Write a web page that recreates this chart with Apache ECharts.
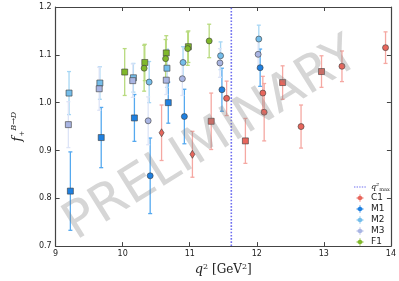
<!DOCTYPE html>
<html>
<head>
<meta charset="utf-8">
<script src="https://cdn.jsdelivr.net/npm/echarts@6/dist/echarts.min.js"></script>
<style>html,body{margin:0;padding:0;background:#fff}#c{width:399px;height:281px}</style>
</head>
<body>
<div id="c"></div>
<script>
// ---- data ----
const qMax = 11.62;
const xTicks = [9, 10, 11, 12, 13, 14];
const yTicks = [0.7, 0.8, 0.9, 1.0, 1.1, 1.2];

const c1Q     = [10.58, 11.04, 11.32, 11.55, 11.83, 12.09, 12.11, 12.385, 12.66, 12.965, 13.27, 13.92];
const c1F     = [0.937, 0.892, 0.961, 1.009, 0.920, 1.020, 0.980, 1.042, 0.950, 1.065, 1.076, 1.115];
const c1Err   = [0.058, 0.048, 0.059, 0.036, 0.047, 0.035, 0.060, 0.035, 0.045, 0.033, 0.032, 0.033];
const c1Shape = ['d', 'd', 's', 'c', 's', 'c', 'c', 's', 'c', 's', 'c', 'c'];

const m1Q     = [9.22, 9.68, 10.175, 10.41, 10.68, 10.92, 11.48, 12.05];
const m1F     = [0.815, 0.927, 0.968, 0.847, 1.000, 0.971, 1.027, 1.073];
const m1Err   = [0.082, 0.063, 0.049, 0.079, 0.043, 0.057, 0.045, 0.039];
const m1Shape = ['s', 's', 's', 'c', 's', 'c', 'c', 'c'];

const m2Q     = [9.20, 9.66, 10.16, 10.395, 10.66, 10.90, 11.46, 12.03];
const m2F     = [1.020, 1.041, 1.052, 1.043, 1.072, 1.084, 1.098, 1.133];
const m2Err   = [0.045, 0.034, 0.030, 0.043, 0.040, 0.033, 0.029, 0.029];
const m2Shape = ['s', 's', 's', 'c', 's', 'c', 'c', 'c'];

const m3Q     = [9.19, 9.65, 10.15, 10.38, 10.65, 10.89, 11.45, 12.02];
const m3F     = [0.954, 1.029, 1.046, 0.962, 1.047, 1.050, 1.083, 1.101];
const m3Err   = [0.048, 0.045, 0.035, 0.050, 0.030, 0.035, 0.030, 0.030];
const m3Shape = ['s', 's', 's', 'c', 's', 'c', 'c', 'c'];

const f1Q     = [10.03, 10.33, 10.32, 10.65, 10.64, 10.98, 10.97, 11.29];
const f1F     = [1.064, 1.084, 1.072, 1.104, 1.092, 1.117, 1.113, 1.129];
const f1Err   = [0.049, 0.038, 0.048, 0.036, 0.040, 0.033, 0.035, 0.035];
const f1Shape = ['s', 's', 'c', 's', 'c', 's', 'c', 'c'];

// ---- styling ----
const ensembles = [
  {name: 'C1', q: c1Q, f: c1F, err: c1Err, shape: c1Shape, color: '#e8665c', bar: '#f5a8a2'},
  {name: 'M1', q: m1Q, f: m1F, err: m1Err, shape: m1Shape, color: '#1f80e0', bar: '#55a9ef'},
  {name: 'M2', q: m2Q, f: m2F, err: m2Err, shape: m2Shape, color: '#74bdea', bar: '#a6d6f4'},
  {name: 'M3', q: m3Q, f: m3F, err: m3Err, shape: m3Shape, color: '#a9b5e3', bar: '#dde4f7'},
  {name: 'F1', q: f1Q, f: f1F, err: f1Err, shape: f1Shape, color: '#80b82a', bar: '#b8da7e'}
];
const shapeMap = {
  s: 'rect',
  c: 'circle',
  d: 'path://M0,-1L0.5,0L0,1L-0.5,0Z'
};
const sizeMap = {s: 6, c: 6, d: [5, 8]};
const corners = 'M0,0h0.01v0.01h-0.01zM12,8h-0.01v-0.01h0.01z';
const hexIcon = 'path://' + corners +
  'M2.5,3.6h7v0.8h-7zM5.6,0.3h0.8v7.4h-0.8z' +
  'M6,1.4L8.2,2.7L8.2,5.3L6,6.6L3.8,5.3L3.8,2.7Z';
const dotIcon = 'path://' + corners +
  'M0,3.4h1.4v1.2h-1.4zM2.6,3.4h1.4v1.2h-1.4zM5.2,3.4h1.4v1.2h-1.4zM7.8,3.4h1.4v1.2h-1.4zM10.4,3.4h1.4v1.2h-1.4z';
const qmaxColor = '#6f6ff0';

const series = [];
// vertical q^2_max line
series.push({
  name: 'qmax', type: 'line', symbol: 'none', silent: true, z: 1,
  data: [[qMax, 0.7], [qMax, 1.2]],
  itemStyle: {color: qmaxColor},
  lineStyle: {color: qmaxColor, width: 1.6, type: [1.6, 1.6]}
});
ensembles.forEach((e) => {
  series.push({
    name: e.name + '_err', type: 'custom', silent: true, z: 2,
    data: e.q.map((x, i) => [x, e.f[i] - e.err[i], e.f[i] + e.err[i]]),
    renderItem: (params, api) => {
      const x = api.value(0);
      const top = api.coord([x, api.value(2)]);
      const bot = api.coord([x, api.value(1)]);
      const cap = 2;
      const st = {stroke: e.bar, lineWidth: 1.3};
      return {type: 'group', children: [
        {type: 'line', shape: {x1: top[0], y1: top[1], x2: bot[0], y2: bot[1]}, style: st},
        {type: 'line', shape: {x1: top[0] - cap, y1: top[1], x2: top[0] + cap, y2: top[1]}, style: st},
        {type: 'line', shape: {x1: bot[0] - cap, y1: bot[1], x2: bot[0] + cap, y2: bot[1]}, style: st}
      ]};
    }
  });
  series.push({
    name: e.name, type: 'scatter', z: 3,
    data: e.q.map((x, i) => [x, e.f[i]]),
    symbol: (v, p) => shapeMap[e.shape[p.dataIndex]],
    symbolSize: (v, p) => sizeMap[e.shape[p.dataIndex]],
    itemStyle: {color: e.color, borderColor: '#3a3a3a', borderWidth: 0.6, opacity: 1}
  });
});

const axisLine = {show: true, lineStyle: {color: '#444', width: 1.2}};
const tickStyle = {show: true, inside: true, length: 4, lineStyle: {color: '#444', width: 1}};
const chart = echarts.init(document.getElementById('c'), null, {renderer: 'canvas'});
chart.setOption({
  animation: false,
  backgroundColor: '#fff',
  grid: {left: 35, right: 8, top: 7, bottom: 30},
  xAxis: [{
    type: 'value', min: xTicks[0], max: xTicks[xTicks.length - 1], interval: 1,
    axisLine: axisLine, axisTick: tickStyle, splitLine: {show: false},
    axisLabel: {color: '#222', fontSize: 8, margin: 4, fontFamily: 'DejaVu Sans'},
    name: '{q|q}{s|2} [GeV{s|2}]', nameLocation: 'middle', nameGap: 10,
    nameTextStyle: {
      fontFamily: 'DejaVu Serif', fontSize: 12, color: '#222',
      rich: {
        q: {fontFamily: 'DejaVu Serif', fontStyle: 'italic', fontSize: 13, color: '#222', verticalAlign: 'bottom'},
        s: {fontFamily: 'DejaVu Serif', fontSize: 8, color: '#222', verticalAlign: 'top'}
      }
    }
  }, {
    type: 'value', position: 'top', min: xTicks[0], max: xTicks[xTicks.length - 1], interval: 1,
    axisLine: axisLine, axisTick: tickStyle, axisLabel: {show: false}, splitLine: {show: false}
  }],
  yAxis: [{
    type: 'value', min: yTicks[0], max: yTicks[yTicks.length - 1], interval: 0.1,
    axisLine: axisLine, axisTick: tickStyle, splitLine: {show: false},
    axisLabel: {color: '#222', fontSize: 8, margin: 4, fontFamily: 'DejaVu Sans',
      formatter: v => v.toFixed(1)},
    name: '{f|f}{b|+}{p|B→D}', nameLocation: 'middle', nameGap: 20, nameRotate: 90,
    nameTextStyle: {
      color: '#222', lineHeight: 20,
      rich: {
        f: {fontFamily: 'DejaVu Serif', fontStyle: 'italic', fontSize: 13, color: '#222', verticalAlign: 'middle'},
        b: {fontFamily: 'DejaVu Serif', fontSize: 7, color: '#222', verticalAlign: 'bottom', padding: [0, 0, 2, 0]},
        p: {fontFamily: 'DejaVu Serif', fontStyle: 'italic', fontSize: 8, color: '#222', verticalAlign: 'top', padding: [2, 0, 0, 0]}
      }
    }
  }, {
    type: 'value', position: 'right', min: yTicks[0], max: yTicks[yTicks.length - 1], interval: 0.1,
    axisLine: axisLine, axisTick: tickStyle, axisLabel: {show: false}, splitLine: {show: false}
  }],
  legend: {
    orient: 'vertical', left: 349, top: 177, itemWidth: 12, itemHeight: 8, itemGap: 1,
    textStyle: {fontSize: 9, color: '#222', fontFamily: 'DejaVu Sans', lineHeight: 10,
      rich: {
        q: {fontFamily: 'DejaVu Serif', fontStyle: 'italic', fontSize: 8, color: '#222'},
        m: {fontFamily: 'DejaVu Serif', fontSize: 5, color: '#222', verticalAlign: 'bottom'}
      }
    },
    formatter: n => n === 'qmax' ? '{q|q²}{m|max}' : n,
    data: [
      {name: 'qmax', icon: dotIcon, itemStyle: {color: qmaxColor, borderWidth: 0}},
      ...ensembles.map(e => ({name: e.name, icon: hexIcon,
        itemStyle: {color: e.color, borderColor: e.color, borderWidth: 0}}))
    ],
    selectedMode: false
  },
  graphic: [{
    type: 'text', x: 212, y: 140, rotation: 32 * Math.PI / 180, z: 100, silent: true,
    style: {text: 'PRELIMINARY', font: '51px "DejaVu Sans"', fill: 'rgba(130,130,130,0.33)',
      textAlign: 'center', textVerticalAlign: 'middle'}
  }],
  series: series
});
</script>
</body>
</html>
